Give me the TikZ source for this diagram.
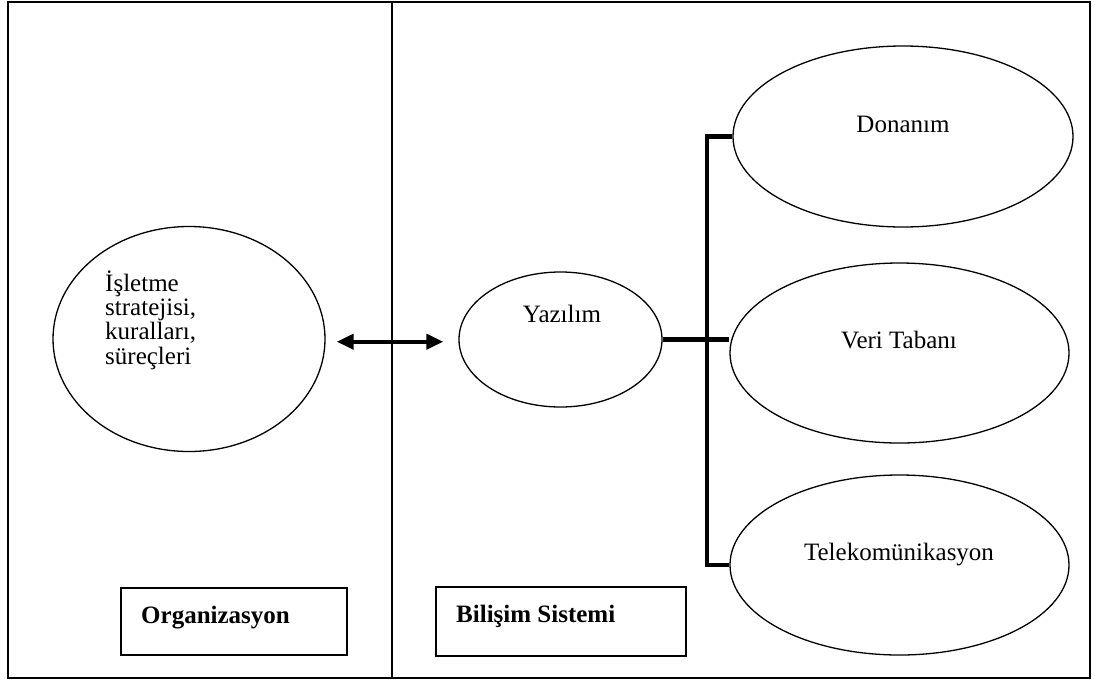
\documentclass[tikz,border=0pt]{standalone}
\usepackage{fontspec}
\setmainfont{Liberation Serif}
\usetikzlibrary{shapes.geometric,arrows.meta}
\begin{document}
\begin{tikzpicture}[x=1pt,y=-1pt,
  frame/.style={draw=black,line width=1.5pt},
  oval/.style={draw=black,line width=1.3pt,ellipse,inner sep=0pt},
  labelbox/.style={draw=black,line width=1.3pt,rectangle,inner sep=0pt},
  txt/.style={inner sep=0pt,font=\fontsize{25}{24.2}\selectfont},
  boldtxt/.style={inner sep=0pt,font=\fontsize{25}{24.2}\selectfont\bfseries},
  bus/.style={draw=black,line width=4.2pt,line join=miter},
  twoway/.style={draw=black,line width=4pt,{Triangle[length=17pt,width=15pt]}-{Triangle[length=17pt,width=15pt]}}
]
\useasboundingbox (0,0) rectangle (1097,681);

% outer frame and the divider between the two halves
\draw[frame] (8,2) rectangle (1090,678);
\coordinate (divtop) at (392,2);
\coordinate (divbot) at (392,678);
\draw[frame] (divtop) -- (divbot);

% ellipses
\node[oval,minimum width=272pt,minimum height=225pt] (org) at (189,339) {};
\node[oval,minimum width=203pt,minimum height=135pt] (yaz) at (560.5,339.5) {};
\node[oval,minimum width=340pt,minimum height=181pt] (don) at (903,136.5) {};
\node[oval,minimum width=339pt,minimum height=180pt] (vt) at (899.5,353) {};
\node[oval,minimum width=339pt,minimum height=180pt] (tel) at (899.5,565) {};

% texts inside the ellipses
\node[txt,anchor=base west,text width=200pt,align=left] (orgtxt) at (105,291.5)
  {İşletme\\stratejisi,\\kuralları,\\süreçleri};
\node[txt,anchor=base] (yaztxt) at (562,322) {Yazılım};
\node[txt,anchor=base] (dontxt) at (903,132) {Donanım};
\node[txt,anchor=base] (vttxt) at (899,348) {Veri Tabanı};
\node[txt,anchor=base] (teltxt) at (899,560) {Telekomünikasyon};

% section titles
\node[labelbox,minimum width=226pt,minimum height=67pt] (orgbox) at (234,621.5) {};
\node[labelbox,minimum width=250pt,minimum height=69pt] (bilbox) at (561,621.5) {};
\node[boldtxt,anchor=base west] (orgtitle) at (141,623) {Organizasyon};
\node[boldtxt,anchor=base west] (biltitle) at (456,622) {Bilişim Sistemi};

% two-way arrow between organisation and software
\draw[twoway,shorten <=11pt,shorten >=15pt] (org.east) ++(0,2.7) coordinate (arrl) -- (arrl -| yaz.west);

% bracket joining software to the three components
\coordinate (bus) at (707,339.5);
\draw[bus] (don.west) -| (bus) |- (tel.west);
\draw[bus] (yaz.east) -- (yaz.east -| vt.west);
\end{tikzpicture}
\end{document}
